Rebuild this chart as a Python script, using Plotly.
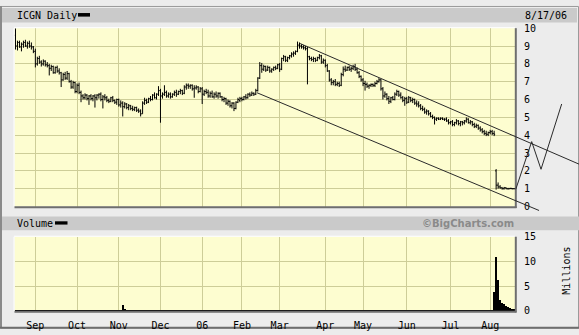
import plotly.graph_objects as go

W, H = 579, 335

# ---------------- data ----------------
month_labels = ["Sep", "Oct", "Nov", "Dec", "06", "Feb", "Mar", "Apr", "May", "Jun", "Jul", "Aug"]
month_start_index = [10, 31, 52, 73, 94, 114, 133, 156, 175, 197, 219, 239]

opens = [
    9.6, 9.0, 9.2, 8.95, 9.1, 9.2, 9.0, 9.15, 9.0, 8.95,
    8.7, 8.0, 8.3, 8.1, 8.0, 8.15, 7.95, 7.9, 7.75, 7.85,
    7.5, 7.8, 7.6, 7.5, 7.1, 7.4, 7.2, 7.45, 7.0, 6.7,
    6.95, 6.45, 6.8, 6.4, 6.2, 6.1, 6.25, 6.05, 6.2, 6.05,
    6.2, 6.1, 6.25, 6.3, 6.0, 6.15, 6.1, 5.95, 5.9, 6.1,
    5.95, 5.85, 6.0, 5.7, 5.8, 5.6, 5.75, 5.55, 5.65, 5.5,
    5.45, 5.55, 5.4, 5.35, 5.2, 5.8, 5.95, 5.85, 6.05, 6.0,
    6.25, 6.1, 6.3, 6.5, 6.2, 6.3, 6.4, 6.2, 6.3, 6.15,
    6.3, 6.4, 6.3, 6.45, 6.5, 6.35, 6.7, 6.8, 6.75, 6.8,
    6.6, 6.65, 6.7, 6.45, 6.6, 6.3, 6.45, 6.4, 6.2, 6.35,
    6.15, 6.3, 6.2, 6.35, 6.15, 6.0, 6.05, 5.8, 5.9, 5.65,
    5.8, 5.5, 5.85, 5.95, 6.05, 6.0, 6.15, 6.1, 6.3, 6.25,
    6.35, 6.3, 6.5, 7.2, 7.9, 7.7, 7.85, 7.65, 7.8, 7.6,
    7.7, 7.8, 7.75, 7.95, 7.7, 8.3, 8.4, 8.2, 8.35, 8.45,
    8.55, 8.6, 8.7, 9.05, 9.0, 8.95, 8.9, 8.85, 8.4, 8.3,
    8.25, 8.3, 8.2, 8.35, 8.45, 8.1, 8.2, 7.9, 7.6, 7.1,
    6.95, 7.0, 6.85, 6.9, 6.8, 7.4, 7.7, 7.65, 7.8, 7.7,
    7.75, 7.85, 7.7, 7.5, 7.3, 7.1, 6.9, 6.85, 6.75, 6.8,
    6.85, 6.8, 6.9, 7.0, 7.1, 6.6, 6.2, 6.3, 6.05, 5.9,
    6.1, 6.0, 6.3, 6.45, 6.25, 6.1, 5.95, 6.05, 5.85, 6.1,
    5.95, 6.0, 5.8, 5.75, 5.65, 5.5, 5.45, 5.3, 5.35, 5.2,
    5.05, 5.0, 4.9, 4.95, 4.9, 4.95, 4.9, 4.9, 4.8, 4.7,
    4.75, 4.6, 4.7, 4.8, 4.65, 4.75, 4.7, 4.8, 4.9, 4.7,
    4.75, 4.6, 4.5, 4.55, 4.4, 4.3, 4.2, 4.1, 4.05, 4.15,
    4.2, 4.1, 2.0, 1.2, 1.1, 1.05, 1.0, 1.05, 1.0, 1.0,
    1.02, 1.0,
]
highs = [
    10.0, 9.3, 9.3, 9.2, 9.3, 9.35, 9.25, 9.3, 9.2, 9.0,
    8.85, 8.4, 8.45, 8.2, 8.25, 8.2, 8.1, 8.0, 7.95, 7.9,
    7.85, 7.9, 7.75, 7.55, 7.5, 7.55, 7.6, 7.5, 7.1, 7.05,
    7.0, 6.9, 6.95, 6.5, 6.3, 6.35, 6.3, 6.25, 6.3, 6.25,
    6.3, 6.3, 6.35, 6.4, 6.25, 6.3, 6.2, 6.05, 6.15, 6.2,
    6.0, 6.05, 6.05, 5.95, 5.9, 5.85, 5.8, 5.75, 5.7, 5.65,
    5.6, 5.6, 5.5, 5.45, 5.9, 6.1, 6.05, 6.1, 6.2, 6.3,
    6.4, 6.35, 6.75, 6.6, 6.4, 6.8, 6.5, 6.4, 6.4, 6.35,
    6.5, 6.55, 6.5, 6.6, 6.55, 6.8, 6.9, 6.9, 6.85, 6.85,
    6.8, 6.8, 6.75, 6.7, 6.7, 6.55, 6.6, 6.55, 6.45, 6.5,
    6.4, 6.45, 6.4, 6.4, 6.2, 6.15, 6.1, 6.0, 5.95, 5.85,
    5.85, 5.9, 6.1, 6.15, 6.15, 6.2, 6.3, 6.35, 6.4, 6.45,
    6.4, 6.6, 7.25, 8.1, 8.05, 7.95, 7.9, 7.9, 7.85, 7.75,
    7.85, 7.9, 8.0, 8.05, 8.35, 8.5, 8.45, 8.4, 8.5, 8.65,
    8.7, 8.75, 9.25, 9.2, 9.1, 9.05, 9.0, 8.95, 8.45, 8.4,
    8.4, 8.35, 8.4, 8.55, 8.5, 8.3, 8.25, 8.0, 7.65, 7.2,
    7.1, 7.15, 7.0, 7.0, 7.5, 7.85, 7.9, 7.85, 7.9, 7.85,
    7.95, 8.0, 7.8, 7.6, 7.35, 7.2, 7.05, 6.95, 6.85, 6.9,
    6.9, 7.0, 7.1, 7.2, 7.15, 6.7, 6.45, 6.35, 6.2, 6.15,
    6.2, 6.4, 6.55, 6.5, 6.4, 6.2, 6.15, 6.15, 6.2, 6.15,
    6.1, 6.05, 5.95, 5.9, 5.75, 5.65, 5.55, 5.45, 5.4, 5.3,
    5.15, 5.05, 5.0, 5.0, 5.0, 5.0, 4.95, 5.0, 4.9, 4.8,
    4.85, 4.75, 4.9, 4.85, 4.8, 4.8, 4.85, 5.0, 4.95, 4.85,
    4.8, 4.7, 4.65, 4.6, 4.5, 4.4, 4.3, 4.25, 4.2, 4.3,
    4.3, 4.25, 2.1, 1.35, 1.2, 1.1, 1.1, 1.08, 1.05, 1.05,
    1.04, 1.03,
]
lows = [
    8.8, 8.75, 8.9, 8.7, 8.9, 8.95, 8.85, 8.9, 8.8, 8.6,
    7.8, 7.9, 8.0, 7.85, 7.9, 7.85, 7.8, 7.35, 7.6, 7.45,
    7.45, 7.5, 7.4, 6.7, 7.05, 7.1, 7.1, 6.95, 6.6, 6.6,
    6.35, 6.35, 6.3, 5.85, 6.0, 6.0, 5.95, 5.7, 5.95, 5.9,
    5.55, 5.95, 6.05, 5.9, 5.5, 5.95, 5.85, 5.8, 5.85, 5.85,
    5.75, 5.7, 5.6, 5.55, 5.05, 5.5, 5.45, 5.4, 5.4, 5.35,
    5.35, 5.3, 5.25, 5.05, 5.2, 5.7, 5.75, 5.8, 5.9, 5.95,
    6.05, 6.0, 6.2, 4.7, 6.05, 6.2, 6.1, 6.1, 6.05, 6.1,
    6.2, 6.15, 6.25, 6.3, 6.25, 6.3, 6.55, 6.6, 6.6, 6.5,
    6.1, 6.55, 6.35, 6.4, 5.75, 6.2, 6.3, 6.1, 6.1, 6.1,
    6.05, 6.1, 6.05, 6.1, 5.9, 5.85, 5.7, 5.65, 5.55, 5.5,
    5.35, 5.45, 5.8, 5.85, 5.9, 5.95, 6.0, 6.05, 6.15, 6.2,
    6.2, 6.25, 6.45, 7.15, 7.5, 7.6, 7.55, 7.6, 7.5, 7.5,
    7.6, 7.65, 7.7, 7.55, 7.65, 8.15, 8.1, 8.1, 8.25, 8.35,
    8.4, 8.5, 8.65, 8.85, 8.85, 8.8, 8.75, 6.85, 8.2, 8.15,
    8.1, 8.1, 8.15, 8.25, 8.0, 8.0, 7.8, 7.55, 7.0, 6.8,
    6.8, 6.75, 6.75, 6.7, 6.75, 7.3, 7.55, 7.6, 7.6, 7.55,
    7.65, 7.6, 7.45, 7.2, 7.0, 6.75, 6.5, 6.65, 6.6, 6.7,
    6.7, 6.7, 6.85, 6.95, 6.5, 6.0, 6.1, 5.95, 5.75, 5.8,
    5.95, 5.95, 6.2, 6.15, 6.05, 5.85, 5.65, 5.75, 5.8, 5.85,
    5.8, 5.7, 5.6, 5.55, 5.4, 5.35, 5.2, 5.15, 5.1, 5.0,
    4.9, 4.6, 4.8, 4.85, 4.85, 4.85, 4.8, 4.75, 4.6, 4.6,
    4.5, 4.5, 4.6, 4.55, 4.5, 4.55, 4.6, 4.7, 4.65, 4.6,
    4.5, 4.4, 4.4, 4.3, 4.2, 4.1, 4.0, 3.95, 3.95, 4.05,
    4.0, 3.95, 0.95, 1.0, 1.0, 0.95, 0.95, 0.97, 0.95, 0.97,
    0.96, 0.97,
]
closes = [
    9.0, 9.2, 8.95, 9.1, 9.2, 9.0, 9.15, 9.0, 8.95, 8.7,
    8.0, 8.3, 8.1, 8.0, 8.15, 7.95, 7.9, 7.75, 7.85, 7.5,
    7.8, 7.6, 7.5, 7.1, 7.4, 7.2, 7.45, 7.0, 6.7, 6.95,
    6.45, 6.8, 6.4, 6.2, 6.1, 6.25, 6.05, 6.2, 6.05, 6.2,
    6.1, 6.25, 6.3, 6.0, 6.15, 6.1, 5.95, 5.9, 6.1, 5.95,
    5.85, 6.0, 5.7, 5.8, 5.6, 5.75, 5.55, 5.65, 5.5, 5.45,
    5.55, 5.4, 5.35, 5.2, 5.8, 5.95, 5.85, 6.05, 6.0, 6.25,
    6.1, 6.3, 6.5, 6.2, 6.3, 6.4, 6.2, 6.3, 6.15, 6.3,
    6.4, 6.3, 6.45, 6.5, 6.35, 6.7, 6.8, 6.75, 6.8, 6.6,
    6.65, 6.7, 6.45, 6.6, 6.3, 6.45, 6.4, 6.2, 6.35, 6.15,
    6.3, 6.2, 6.35, 6.15, 6.0, 6.05, 5.8, 5.9, 5.65, 5.8,
    5.5, 5.85, 6.0, 6.05, 6.0, 6.15, 6.1, 6.3, 6.25, 6.35,
    6.3, 6.5, 7.2, 7.9, 7.7, 7.85, 7.65, 7.8, 7.6, 7.7,
    7.8, 7.75, 7.95, 7.7, 8.3, 8.4, 8.2, 8.35, 8.45, 8.55,
    8.6, 8.7, 9.05, 9.0, 8.95, 8.9, 8.85, 8.4, 8.3, 8.25,
    8.3, 8.2, 8.35, 8.45, 8.1, 8.2, 7.9, 7.6, 7.1, 6.95,
    7.0, 6.85, 6.9, 6.8, 7.4, 7.7, 7.65, 7.8, 7.7, 7.75,
    7.85, 7.7, 7.5, 7.3, 7.1, 6.9, 6.85, 6.75, 6.8, 6.85,
    6.8, 6.9, 7.0, 7.1, 6.6, 6.2, 6.3, 6.05, 5.9, 6.1,
    6.0, 6.3, 6.45, 6.25, 6.1, 5.95, 6.05, 5.85, 6.1, 5.95,
    6.0, 5.8, 5.75, 5.65, 5.5, 5.45, 5.3, 5.35, 5.2, 5.05,
    5.0, 4.9, 4.95, 4.9, 4.95, 4.9, 4.9, 4.8, 4.7, 4.75,
    4.6, 4.7, 4.8, 4.65, 4.75, 4.7, 4.8, 4.9, 4.7, 4.75,
    4.6, 4.5, 4.55, 4.4, 4.3, 4.2, 4.1, 4.05, 4.15, 4.2,
    4.1, 4.05, 1.2, 1.1, 1.05, 1.0, 1.05, 1.0, 1.0, 1.02,
    1.0, 1.0,
]
volume_millions = [
    0.20, 0.12, 0.10, 0.12, 0.08, 0.10, 0.08, 0.10, 0.12, 0.10,
    0.18, 0.12, 0.10, 0.08, 0.10, 0.08, 0.10, 0.12, 0.08, 0.10,
    0.10, 0.08, 0.10, 0.14, 0.10, 0.08, 0.10, 0.10, 0.12, 0.08,
    0.12, 0.10, 0.10, 0.14, 0.08, 0.10, 0.08, 0.10, 0.25, 0.10,
    0.12, 0.08, 0.10, 0.10, 0.12, 0.08, 0.10, 0.08, 0.10, 0.10,
    0.08, 0.10, 0.12, 0.15, 1.20, 0.50, 0.15, 0.10, 0.08, 0.10,
    0.08, 0.10, 0.08, 0.12, 0.15, 0.12, 0.10, 0.08, 0.10, 0.10,
    0.08, 0.10, 0.12, 0.20, 0.10, 0.12, 0.08, 0.10, 0.08, 0.10,
    0.08, 0.10, 0.08, 0.10, 0.08, 0.12, 0.10, 0.08, 0.10, 0.08,
    0.10, 0.08, 0.10, 0.08, 0.14, 0.10, 0.08, 0.25, 0.10, 0.08,
    0.10, 0.08, 0.10, 0.08, 0.25, 0.10, 0.08, 0.10, 0.08, 0.10,
    0.12, 0.10, 0.08, 0.10, 0.08, 0.10, 0.08, 0.10, 0.08, 0.10,
    0.08, 0.12, 0.30, 0.35, 0.15, 0.10, 0.08, 0.10, 0.08, 0.10,
    0.08, 0.10, 0.08, 0.10, 0.15, 0.12, 0.10, 0.08, 0.10, 0.08,
    0.10, 0.12, 0.20, 0.15, 0.10, 0.08, 0.10, 0.20, 0.12, 0.10,
    0.08, 0.10, 0.08, 0.10, 0.12, 0.35, 0.15, 0.12, 0.15, 0.12,
    0.10, 0.08, 0.10, 0.08, 0.25, 0.12, 0.10, 0.08, 0.10, 0.08,
    0.10, 0.08, 0.10, 0.08, 0.10, 0.12, 0.10, 0.08, 0.10, 0.08,
    0.10, 0.08, 0.10, 0.08, 0.12, 0.15, 0.10, 0.08, 0.10, 0.08,
    0.10, 0.08, 0.10, 0.08, 0.10, 0.08, 0.10, 0.08, 0.10, 0.08,
    0.10, 0.08, 0.10, 0.08, 0.10, 0.08, 0.10, 0.08, 0.10, 0.08,
    0.10, 0.12, 0.08, 0.10, 0.08, 0.10, 0.08, 0.10, 0.08, 0.10,
    0.08, 0.10, 0.08, 0.10, 0.08, 0.10, 0.08, 0.10, 0.08, 0.10,
    0.08, 0.10, 0.08, 0.10, 0.10, 0.12, 0.10, 0.12, 0.10, 0.12,
    0.15, 3.80, 11.00, 6.30, 2.20, 1.70, 1.40, 1.10, 0.90, 0.70,
    0.50, 0.40,
]

price_ticks = [0, 1, 2, 3, 4, 5, 6, 7, 8, 9, 10]
volume_ticks = [0, 5, 10, 15]

# hand-drawn channel / projection overlay (trading-day index, price)
upper_channel = [(143.3, 9.14), (283.7, 2.38)]
lower_channel = [(121.6, 6.38), (263.6, -0.22)]
projection = [(251.9, 0.97), (259.9, 3.64), (264.6, 2.09), (275.0, 5.75)]

# ---------------- layout geometry (pixels) ----------------
PX0, PX1 = 14.5, 515.0
PRICE_TOP, PRICE_BOT = 23.0, 208.0
VOL_TOP, VOL_BOT = 239.3, 316.3
XR = (-0.5, 251.5)
PR = (0, 10)
VR = (0, 15)

def fx(px):
    return px / W

def fy(py):
    return 1 - py / H

def price_to_paper(i, p):
    xpix = PX0 + (i - XR[0]) / (XR[1] - XR[0]) * (PX1 - PX0)
    ypix = PRICE_BOT - (p - PR[0]) / (PR[1] - PR[0]) * (PRICE_BOT - PRICE_TOP)
    return fx(xpix), fy(ypix)

idx = list(range(len(closes)))

MONO = "DejaVu Sans Mono"
GRID = "#cdcd98"
PLOT_BG = "#fdfdd0"

fig = go.Figure()
fig.add_trace(go.Ohlc(
    x=idx, open=opens, high=highs, low=lows, close=closes,
    xaxis="x", yaxis="y",
    increasing=dict(line=dict(color="black", width=1)),
    decreasing=dict(line=dict(color="black", width=1)),
    tickwidth=0.5, showlegend=False, hoverinfo="skip",
))
fig.add_trace(go.Bar(
    x=idx, y=volume_millions, xaxis="x2", yaxis="y2",
    marker=dict(color="black", line=dict(width=0)), width=0.7,
    showlegend=False, hoverinfo="skip",
))

shapes = []
# outer frame
shapes.append(dict(type="rect", xref="paper", yref="paper", x0=fx(0.5), x1=fx(578.5), y0=fy(334), y1=fy(0.5),
                   line=dict(color="#9a9a9a", width=1), layer="below"))
shapes.append(dict(type="line", xref="paper", yref="paper", x0=fx(1), x1=fx(1), y0=fy(334), y1=fy(0),
                   line=dict(color="#8a8a8a", width=2), layer="below"))
shapes.append(dict(type="line", xref="paper", yref="paper", x0=fx(0), x1=fx(579), y0=fy(333.8), y1=fy(333.8),
                   line=dict(color="#6e6e6e", width=2), layer="below"))
# title bars
shapes.append(dict(type="rect", xref="paper", yref="paper", x0=fx(2), x1=fx(577), y0=fy(17), y1=fy(2),
                   fillcolor="#cacaca", line=dict(width=0), layer="below"))
shapes.append(dict(type="rect", xref="paper", yref="paper", x0=fx(2), x1=fx(579), y0=fy(232.7), y1=fy(218.3),
                   fillcolor="#cacaca", line=dict(width=0), layer="below"))
# legend swatches
shapes.append(dict(type="rect", xref="paper", yref="paper", x0=fx(78), x1=fx(90), y0=fy(11), y1=fy(7.3),
                   fillcolor="black", line=dict(width=0)))
shapes.append(dict(type="rect", xref="paper", yref="paper", x0=fx(55), x1=fx(67.5), y0=fy(226.7), y1=fy(223.3),
                   fillcolor="black", line=dict(width=0)))
# inset frames of plot areas
for top, bot in [(PRICE_TOP, PRICE_BOT), (VOL_TOP, VOL_BOT)]:
    shapes.append(dict(type="line", xref="paper", yref="paper", x0=fx(PX0 - 0.5), x1=fx(PX1), y0=fy(top - 0.5), y1=fy(top - 0.5),
                       line=dict(color="white", width=1)))
    shapes.append(dict(type="line", xref="paper", yref="paper", x0=fx(PX0 - 0.5), x1=fx(PX0 - 0.5), y0=fy(top), y1=fy(bot),
                       line=dict(color="white", width=1)))
    shapes.append(dict(type="line", xref="paper", yref="paper", x0=fx(PX0), x1=fx(PX1 + 1.5), y0=fy(bot + 0.8), y1=fy(bot + 0.8),
                       line=dict(color="#6e6e6e", width=2)))
    shapes.append(dict(type="line", xref="paper", yref="paper", x0=fx(PX1 + 0.8), x1=fx(PX1 + 0.8), y0=fy(top), y1=fy(bot + 1.5),
                       line=dict(color="#6e6e6e", width=2)))
# overlay lines
for pts in (upper_channel, lower_channel):
    (ax, ay), (bx, by) = [price_to_paper(*p) for p in pts]
    shapes.append(dict(type="line", xref="paper", yref="paper", x0=ax, y0=ay, x1=bx, y1=by,
                       line=dict(color="#2a2a2a", width=1)))
pp = [price_to_paper(*p) for p in projection]
path = "M " + " L ".join(f"{a},{b}" for a, b in pp)
shapes.append(dict(type="path", xref="paper", yref="paper", path=path, line=dict(color="#2a2a2a", width=1)))

annotations = [
    dict(text="ICGN Daily", x=fx(15), y=fy(9.5), xref="paper", yref="paper", xanchor="left", yanchor="middle",
         showarrow=False, font=dict(family=MONO, size=10, color="black")),
    dict(text="8/17/06", x=fx(523), y=fy(9.5), xref="paper", yref="paper", xanchor="left", yanchor="middle",
         showarrow=False, font=dict(family=MONO, size=10, color="black")),
    dict(text="Volume", x=fx(15), y=fy(225.3), xref="paper", yref="paper", xanchor="left", yanchor="middle",
         showarrow=False, font=dict(family=MONO, size=10, color="black")),
    dict(text="©BigCharts.com", x=fx(516), y=fy(225.3), xref="paper", yref="paper", xanchor="right", yanchor="middle",
         showarrow=False, font=dict(family="DejaVu Sans", size=10, color="#8a8a8a", weight="bold")),
    dict(text="Millions", x=fx(566.5), y=fy(275), xref="paper", yref="paper", xanchor="center", yanchor="middle",
         textangle=-90, showarrow=False, font=dict(family=MONO, size=10, color="black")),
]

axis_common = dict(showline=False, zeroline=False, showgrid=True, gridcolor=GRID, gridwidth=1, fixedrange=True)

fig.update_layout(
    width=W, height=H, margin=dict(l=0, r=0, t=0, b=0),
    paper_bgcolor="#ececec", plot_bgcolor=PLOT_BG,
    showlegend=False, bargap=0,
    xaxis=dict(domain=[fx(PX0), fx(PX1)], anchor="y", range=list(XR), tickvals=month_start_index,
               showticklabels=False, ticks="", rangeslider=dict(visible=False), **axis_common),
    yaxis=dict(domain=[fy(PRICE_BOT), fy(PRICE_TOP)], anchor="x", range=list(PR), side="right",
               tickvals=price_ticks, ticks="outside", ticklen=6, tickcolor="rgba(0,0,0,0)",
               tickfont=dict(family=MONO, size=10, color="black"), **axis_common),
    xaxis2=dict(domain=[fx(PX0), fx(PX1)], anchor="y2", range=list(XR), tickvals=month_start_index,
                ticktext=month_labels, ticks="outside", ticklen=5, tickcolor="rgba(0,0,0,0)",
                tickfont=dict(family=MONO, size=10, color="black"), **axis_common),
    yaxis2=dict(domain=[fy(VOL_BOT), fy(VOL_TOP)], anchor="x2", range=list(VR), side="right",
                tickvals=volume_ticks, ticks="outside", ticklen=6, tickcolor="rgba(0,0,0,0)",
                tickfont=dict(family=MONO, size=10, color="black"), **axis_common),
    shapes=shapes, annotations=annotations,
)

fig.write_html("out.html")
